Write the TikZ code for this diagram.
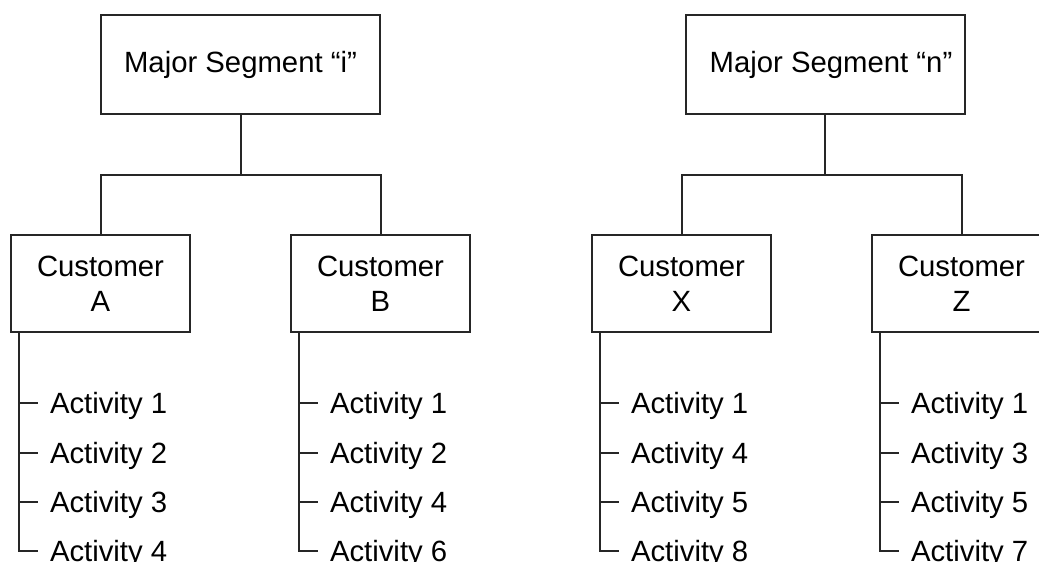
\documentclass[tikz,border=0pt]{standalone}
\usepackage{fontspec}
\setmainfont{Liberation Sans}
\begin{document}
\begin{tikzpicture}[x=1pt, y=-1pt, line width=2pt,
  every node/.style={font=\fontsize{29.3}{35}\selectfont, text=black},
  link/.style={draw=black!85},
  segbox/.style={draw=black!85, minimum width=279pt, minimum height=99pt, inner sep=0pt, align=center},
  custbox/.style={draw=black!85, minimum width=179pt, minimum height=97pt, inner sep=0pt, align=center},
  act/.style={anchor=west, inner sep=0pt, text height=21pt, text depth=0pt},
  tick/.style={link, shorten >=11pt}]
\useasboundingbox (0,0) rectangle (1039,562);
\clip (0,0) rectangle (1039,562);

% activity list hanging below a customer box
\newcommand\actcolumn[5]{%
  \path (cust#1.south west) ++(9,0) coordinate (s#1);
  \foreach \lbl/\dy [count=\k] in {#2/70,#3/120,#4/169,#5/218} {
    \path (s#1) ++(0,\dy) coordinate (t#1\k);
    \path (t#1\k) ++(30,0) node[act] (a#1\k) {Activity \lbl};
    \draw[tick] (t#1\k) -- (a#1\k.west);
  }
  \draw[tick] (s#1) -- (t#14) -- (a#14.west);
}

% major segments
\node[segbox] (segi) at (240.5,64.5) {Major Segment “i”};
\node[segbox] (segn) at (825,64.5) {\hspace*{12pt}Major Segment “n”};

% customers
\node[custbox] (custA) at (100.5,283.5) {Customer\\A};
\node[custbox] (custB) at (380.5,283.5) {Customer\\B};
\node[custbox] (custX) at (681.5,283.5) {Customer\\X};
\node[custbox] (custZ) at (961.5,283.5) {Customer\\Z};

% segment-to-customer connectors
\path (segi.south) ++(0,60) coordinate (ji);
\path (segn.south) ++(0,60) coordinate (jn);
\draw[link] (segi) -- (ji);
\draw[link] (custA.north) |- (ji) -| (custB.north);
\draw[link] (segn) -- (jn);
\draw[link] (custX.north) |- (jn) -| (custZ.north);

% activities
\actcolumn{A}{1}{2}{3}{4}
\actcolumn{B}{1}{2}{4}{6}
\actcolumn{X}{1}{4}{5}{8}
\actcolumn{Z}{1}{3}{5}{7}
\end{tikzpicture}
\end{document}
